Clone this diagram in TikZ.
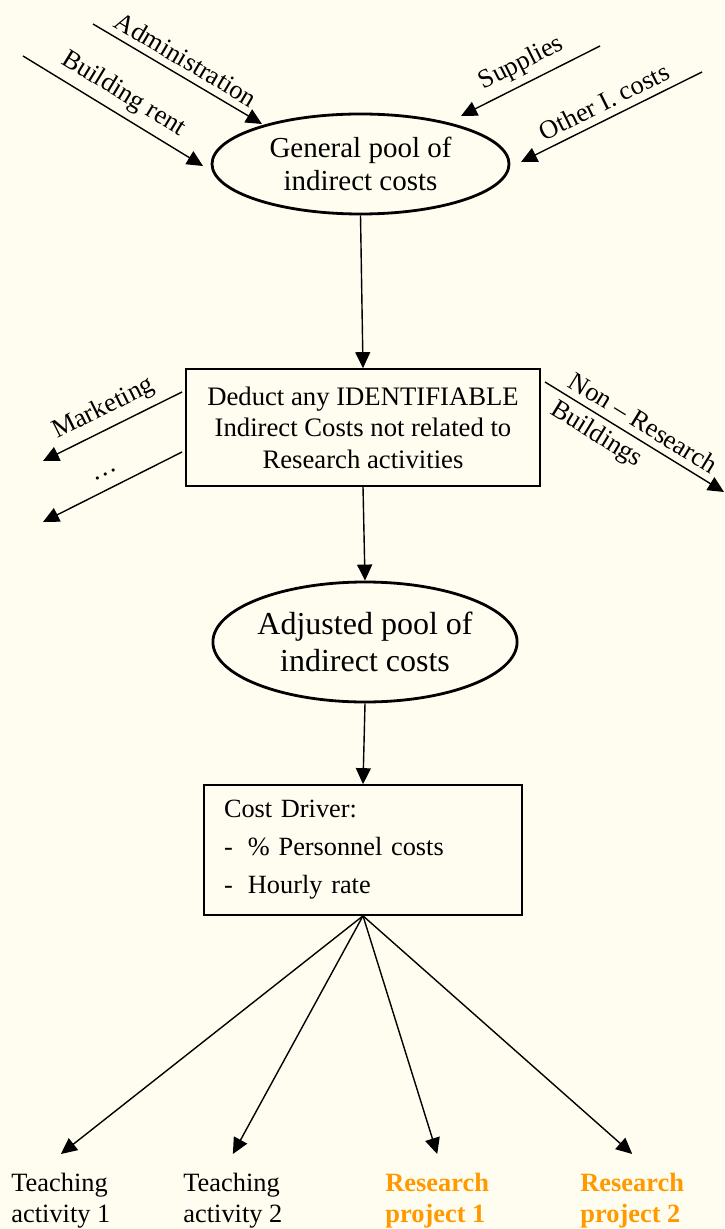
\documentclass[tikz,border=0pt]{standalone}
\usepackage{fontspec}
\setmainfont{Liberation Serif}
\usetikzlibrary{shapes.geometric, arrows.meta}
\definecolor{paper}{RGB}{255,253,240}
\definecolor{resorange}{RGB}{255,153,0}

\begin{document}
\begin{tikzpicture}[x=0.5pt, y=-0.5pt,
  arr/.style={-{Triangle[length=8pt, width=7.5pt]}, line width=0.7pt},
  pool/.style={ellipse, draw, line width=1.4pt, inner sep=0pt, align=center},
  stepbox/.style={rectangle, draw, line width=0.85pt, inner sep=0pt},
  lbl/.style={font=\fontsize{13.2}{15.8}\selectfont, inner sep=3.5pt},
  leaf/.style={anchor=north west, inner sep=0pt, align=left,
               font=\fontsize{13.2}{15.5}\selectfont}]

\fill[paper] (0,0) rectangle (724,1229);
\useasboundingbox (0,0) rectangle (724,1229);

% pools and boxes
\node[pool, minimum width=148.5pt, minimum height=50pt,
      font=\fontsize{14.5}{16.5}\selectfont]
(general) at (360.5,164) {General pool of\\indirect costs};

\node[stepbox, minimum width=177pt, minimum height=58.5pt, align=center,
      font=\fontsize{13.35}{15.75}\selectfont]
(deduct) at (363,427.5) {Deduct any IDENTIFIABLE\\Indirect Costs not related to\\Research activities};

\node[pool, minimum width=152pt, minimum height=60pt,
      font=\fontsize{16}{18.5}\selectfont]
(adjusted) at (365,642) {Adjusted pool of\\indirect costs};

\node[stepbox, minimum width=159pt, minimum height=65pt, inner xsep=10pt,
      text width=139pt, align=left,
      font=\fontsize{13.15}{19}\selectfont]
(driver) at (363,850) {Cost Driver:\\\makebox[12pt][l]{-}\% Personnel costs\\\makebox[12pt][l]{-}Hourly rate};

% activities
\node[leaf] (teach1) at (11,1173) {Teaching\\activity 1};
\node[leaf] (teach2) at (183,1173) {Teaching\\activity 2};
\node[leaf, text=resorange, font=\fontsize{13.2}{15.5}\selectfont\bfseries]
(res1) at (385,1173) {Research\\project 1};
\node[leaf, text=resorange, font=\fontsize{13.2}{15.5}\selectfont\bfseries]
(res2) at (580,1173) {Research\\project 2};

% incoming costs
\coordinate (adminA) at (93,24);   \coordinate (adminB) at (262,124);
\coordinate (rentA) at (23,56);    \coordinate (rentB) at (203,166);
\coordinate (supA) at (600,46);    \coordinate (supB) at (461,116);
\coordinate (otherA) at (702,72);  \coordinate (otherB) at (521,162);

\draw[arr] (adminA) -- node[lbl, sloped, above] {Administration} (adminB);
\draw[arr] (rentA) -- node[lbl, sloped, above] {Building rent} (rentB);
\draw[arr] (supA) -- node[lbl, sloped, above] {Supplies} (supB);
\draw[arr] (otherA) -- node[lbl, sloped, above] {Other I. costs} (otherB);

% deductions
\coordinate (mktA) at (182,392);   \coordinate (mktB) at (43,461);
\coordinate (dotsA) at (182,452);  \coordinate (dotsB) at (43,522);
\coordinate (nonA) at (545,382);   \coordinate (nonB) at (724,492);

\draw[arr] (mktA) -- node[lbl, sloped, above] {Marketing} (mktB);
\draw[arr] (dotsA) -- node[lbl, sloped, above=2.5pt] {\ldots} (dotsB);
\draw[arr] (nonA) -- node[lbl, sloped, above] {Non -- Research}
      node[lbl, sloped, below, pos=0.34, inner sep=2.8pt] {Buildings} (nonB);

% main flow
\draw[arr] (general.south) -- (deduct.north);
\draw[arr] (deduct.south) -- (adjusted.north);
\draw[arr] (adjusted.south) -- (driver.north);

\draw[arr] (driver.south) -- ([yshift=9.5pt]teach1.north);
\draw[arr] (driver.south) -- ([yshift=9.5pt]teach2.north);
\draw[arr] (driver.south) -- ([yshift=9.5pt]res1.north);
\draw[arr] (driver.south) -- ([yshift=9.5pt]res2.north);

\end{tikzpicture}
\end{document}
